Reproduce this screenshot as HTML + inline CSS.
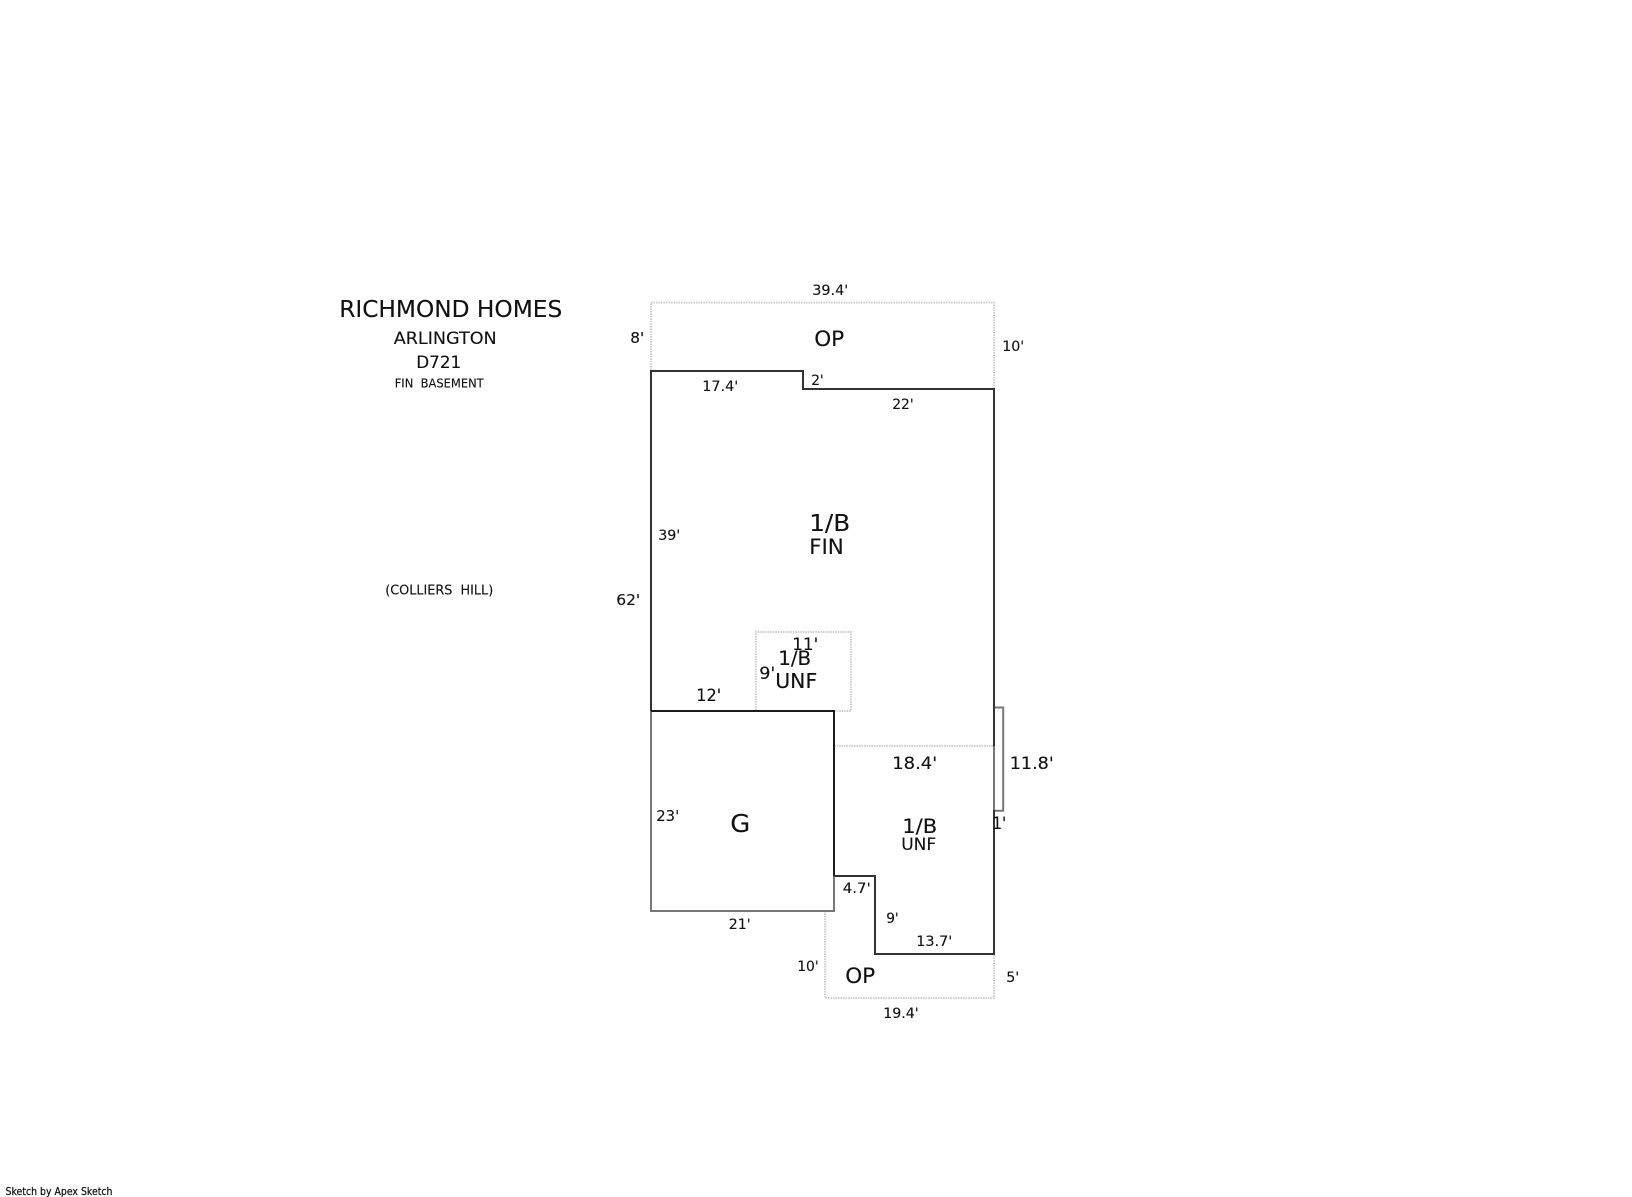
<!DOCTYPE html>
<html><head><meta charset="utf-8"><style>
html,body{margin:0;padding:0;background:#fff;width:1632px;height:1197px;overflow:hidden}
svg{display:block}
text{font-family:"DejaVu Sans","Liberation Sans",sans-serif;fill:#111}
</style></head><body>
<svg width="1632" height="1197" viewBox="0 0 1632 1197" xmlns="http://www.w3.org/2000/svg">
<g fill="none" stroke="#cdcdcd" stroke-width="2" stroke-dasharray="1.5 1">
<path d="M651 370V302.5H994V389"/>
<path d="M755.8 710V632H851V711H834"/>
<path d="M834 746H994"/>
<path d="M825 911V998H994V954"/>
</g>
<g fill="none" stroke="#777" stroke-width="2">
<path d="M651 711V911H834V876"/>
<path d="M994 707.5H1003.2V810.7H994"/>
<path d="M994 746V810"/>
</g>
<g fill="none" stroke="#333" stroke-width="2" stroke-linejoin="miter">
<path d="M651 711V371H803V389H994V746"/>
<path d="M994 810V954H875V876H834"/>
</g>
<path d="M651 711H834V876" fill="none" stroke="#1a1a1a" stroke-width="2"/>
<g transform="translate(-0.8,-0.2)" stroke="#111" stroke-width="0.12">
<text x="340" y="317" font-size="23" textLength="223" lengthAdjust="spacingAndGlyphs">RICHMOND HOMES</text>
<text x="394.5" y="344" font-size="17" textLength="103" lengthAdjust="spacingAndGlyphs">ARLINGTON</text>
<text x="417" y="368" font-size="17" textLength="45" lengthAdjust="spacingAndGlyphs">D721</text>
<text x="395.5" y="387.5" font-size="12" textLength="89" lengthAdjust="spacingAndGlyphs" xml:space="preserve">FIN  BASEMENT</text>
<text x="386" y="594.5" font-size="13" textLength="108" lengthAdjust="spacingAndGlyphs" xml:space="preserve">(COLLIERS  HILL)</text>
<text x="631" y="343" font-size="15.5" textLength="14" lengthAdjust="spacingAndGlyphs">8'</text>
<text x="813" y="295" font-size="14" textLength="36" lengthAdjust="spacingAndGlyphs">39.4'</text>
<text x="815" y="346" font-size="21" textLength="30" lengthAdjust="spacingAndGlyphs">OP</text>
<text x="1003" y="351" font-size="14.5" textLength="22" lengthAdjust="spacingAndGlyphs">10'</text>
<text x="703" y="391" font-size="14" textLength="36" lengthAdjust="spacingAndGlyphs">17.4'</text>
<text x="812" y="385" font-size="14" textLength="12.5" lengthAdjust="spacingAndGlyphs">2'</text>
<text x="893" y="409" font-size="14" textLength="21.5" lengthAdjust="spacingAndGlyphs">22'</text>
<text x="659" y="540" font-size="14" textLength="22" lengthAdjust="spacingAndGlyphs">39'</text>
<text x="810" y="531" font-size="23.5" textLength="41" lengthAdjust="spacingAndGlyphs">1/B</text>
<text x="810" y="554" font-size="21.5" textLength="34.5" lengthAdjust="spacingAndGlyphs">FIN</text>
<text x="617" y="605" font-size="15" textLength="24" lengthAdjust="spacingAndGlyphs">62'</text>
<text x="793" y="650" font-size="17" textLength="26" lengthAdjust="spacingAndGlyphs">11'</text>
<text x="779" y="665" font-size="19.5" textLength="33" lengthAdjust="spacingAndGlyphs">1/B</text>
<text x="760" y="679" font-size="17" textLength="16" lengthAdjust="spacingAndGlyphs">9'</text>
<text x="776" y="688" font-size="20" textLength="42" lengthAdjust="spacingAndGlyphs">UNF</text>
<text x="697" y="701" font-size="16.5" textLength="25" lengthAdjust="spacingAndGlyphs">12'</text>
<text x="893" y="769" font-size="17" textLength="45" lengthAdjust="spacingAndGlyphs">18.4'</text>
<text x="1010.5" y="769" font-size="17" textLength="44" lengthAdjust="spacingAndGlyphs">11.8'</text>
<text x="903" y="833" font-size="19.5" textLength="35" lengthAdjust="spacingAndGlyphs">1/B</text>
<text x="902" y="850" font-size="16.5" textLength="35" lengthAdjust="spacingAndGlyphs">UNF</text>
<text x="993" y="829" font-size="17" textLength="14" lengthAdjust="spacingAndGlyphs">1'</text>
<text x="731" y="832" font-size="25" textLength="20" lengthAdjust="spacingAndGlyphs">G</text>
<text x="657" y="821" font-size="15" textLength="23" lengthAdjust="spacingAndGlyphs">23'</text>
<text x="843.5" y="893" font-size="14" textLength="28" lengthAdjust="spacingAndGlyphs">4.7'</text>
<text x="887" y="923" font-size="14" textLength="12.5" lengthAdjust="spacingAndGlyphs">9'</text>
<text x="917" y="946" font-size="14" textLength="36" lengthAdjust="spacingAndGlyphs">13.7'</text>
<text x="729.5" y="929" font-size="14" textLength="22" lengthAdjust="spacingAndGlyphs">21'</text>
<text x="798" y="971" font-size="14" textLength="21.5" lengthAdjust="spacingAndGlyphs">10'</text>
<text x="846" y="983" font-size="21" textLength="30" lengthAdjust="spacingAndGlyphs">OP</text>
<text x="1007" y="982" font-size="14" textLength="13" lengthAdjust="spacingAndGlyphs">5'</text>
<text x="884" y="1018" font-size="14" textLength="35.5" lengthAdjust="spacingAndGlyphs">19.4'</text>
</g>
<text x="5.5" y="1195" font-size="11" textLength="107" lengthAdjust="spacingAndGlyphs" stroke="#111" stroke-width="0.25">Sketch by Apex Sketch</text>
</svg>
</body></html>
